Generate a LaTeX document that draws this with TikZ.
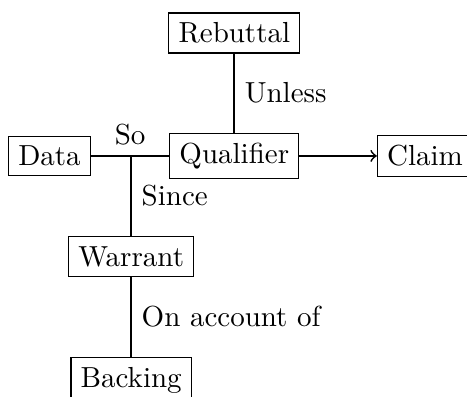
\documentclass[tikz,border=0pt]{standalone}
\begin{document}
\begin{tikzpicture}[box/.style={draw,rectangle},link/.style={semithick}]
  \useasboundingbox (-1.59,-2.91) rectangle (4.07,1.89);
  \node[box] (data) at (-0.99,0) {Data};
  \node[box] (qual) at (1.25,0) {Qualifier};
  \node[box] (claim) at (3.56,0) {Claim};
  \node[box] (rebut) at (1.25,1.49) {Rebuttal};
  \node[box] (warrant) at (0,-1.22) {Warrant};
  \node[box] (backing) at (0,-2.715) {Backing};
  \coordinate (j) at (warrant |- data);
  \draw[link] (data) -- node[above] {So} (qual);
  \draw[link] (j) -- node[right] {Since} (warrant);
  \draw[link] (rebut) -- node[right] {Unless} (qual);
  \draw[link,->] (qual) -- (claim);
  \draw[link] (warrant) -- node[right] {On account of} (backing);
\end{tikzpicture}
\end{document}
